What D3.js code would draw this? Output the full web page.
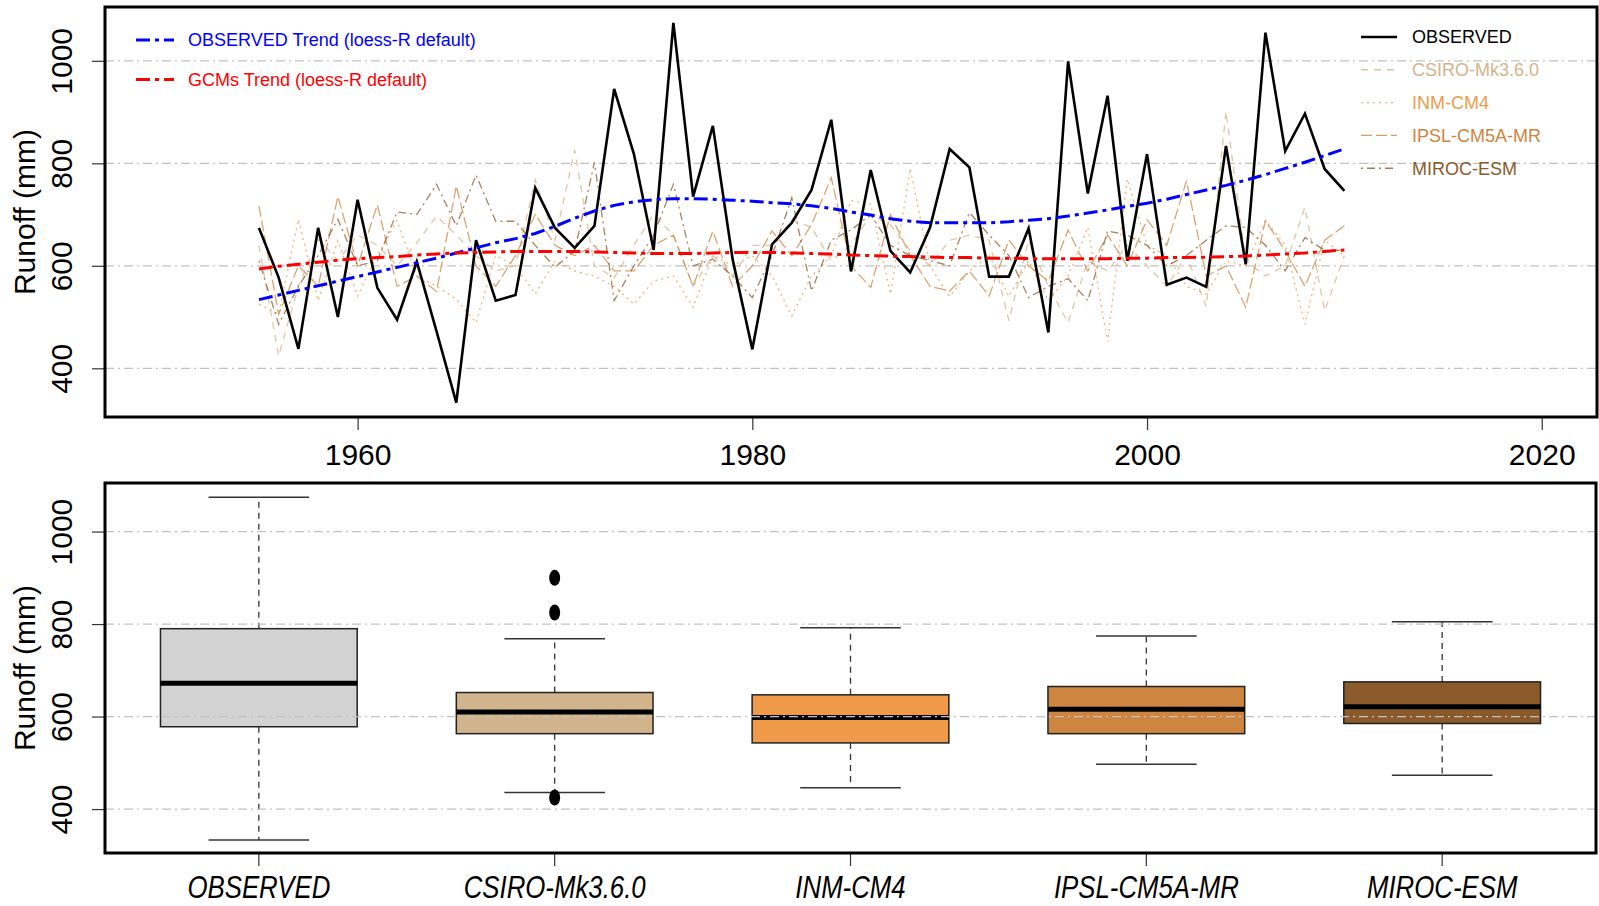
<!DOCTYPE html>
<html>
<head>
<meta charset="utf-8">
<script src="https://cdn.jsdelivr.net/npm/d3@7"></script>
<style>
  body { margin: 0; background: #fff; }
  svg { font-family: "Liberation Sans", Arial, sans-serif; display: block; }
</style>
</head>
<body>
<div id="chart"></div>
<script>
// Data
const years = d3.range(1955, 2011);

const observed = [674, 577, 438, 674, 500, 729, 557, 495, 608, 472,
  333, 650, 532, 543, 752, 674, 635, 678, 945, 818,
  631, 1074, 735, 873, 613, 437, 642, 684, 748, 885,
  589, 787, 629, 587, 674, 828, 792, 579, 579, 673,
  470, 999, 741, 932, 610, 818, 563, 577, 559, 834,
  603, 1055, 824, 897, 789, 746];

const csiro = [640, 424, 560, 652, 610, 660, 640, 600, 645, 697,
  660, 620, 590, 600, 768, 650, 826, 600, 577, 640,
  700, 660, 560, 620, 580, 640, 640, 690, 675, 610,
  640, 700, 680, 630, 600, 650, 660, 650, 493, 650,
  560, 489, 610, 590, 640, 600, 560, 620, 520, 902,
  610, 580, 600, 714, 512, 620];

const inm = [525, 506, 691, 532, 649, 541, 620, 688, 580, 560,
  535, 489, 620, 600, 545, 610, 590, 580, 560, 525,
  570, 580, 519, 620, 600, 620, 580, 502, 580, 620,
  727, 720, 545, 790, 600, 540, 590, 620, 540, 610,
  532, 580, 675, 452, 769, 640, 620, 560, 545, 610,
  600, 688, 640, 486, 650, 620];

const ipsl = [717, 505, 600, 560, 735, 600, 719, 560, 580, 550,
  756, 600, 560, 620, 700, 640, 620, 640, 590, 590,
  640, 660, 560, 668, 560, 600, 668, 620, 680, 772,
  600, 558, 700, 620, 560, 551, 590, 541, 650, 600,
  570, 670, 590, 660, 600, 690, 640, 766, 580, 600,
  519, 688, 630, 560, 650, 678];

const miroc = [610, 486, 560, 620, 691, 600, 610, 705, 700, 759,
  678, 777, 687, 687, 640, 597, 629, 802, 532, 600,
  660, 759, 600, 613, 580, 538, 620, 733, 551, 650,
  670, 700, 640, 620, 610, 600, 704, 660, 620, 538,
  560, 575, 532, 668, 660, 640, 600, 620, 650, 678,
  675, 640, 590, 655, 630, 630];

const obsTrend = [534, 543, 552, 561, 570, 579, 588, 597, 606, 615,
  625, 635, 645, 653, 663, 677, 693, 707, 718, 725,
  729, 731, 731, 730, 728, 726, 723, 721, 717, 712,
  705, 699, 692, 687, 684, 684, 684, 684, 686, 689,
  692, 697, 703, 709, 716, 722, 730, 739, 748, 757,
  767, 778, 790, 802, 815, 828];

const gcmTrend = [594, 599, 603, 607, 611, 614, 616, 618, 621, 623,
  625, 626, 627, 628, 628, 628, 628, 627, 626, 625,
  624, 624, 624, 625, 626, 626, 626, 625, 624, 623,
  621, 620, 619, 618, 617, 616, 616, 615, 615, 614,
  614, 614, 614, 614, 615, 615, 616, 616, 617, 618,
  619, 621, 623, 625, 628, 631];

const seriesNames = ["OBSERVED", "CSIRO-Mk3.6.0", "INM-CM4", "IPSL-CM5A-MR", "MIROC-ESM"];
const trendNames = ["OBSERVED Trend (loess-R default)", "GCMs Trend (loess-R default)"];

// box plot statistics (whisker low, Q1, median, Q3, whisker high)
const boxLow = [333, 436, 446, 497, 473];
const boxQ1 = [578, 563, 543, 563, 585];
const boxMed = [672, 610, 598, 616, 621];
const boxQ3 = [790, 652, 647, 665, 675];
const boxHigh = [1074, 768, 792, 774, 805];
const csiroOutliers = [900, 825, 425];

const yTicks = [400, 600, 800, 1000];
const xTicks = [1960, 1980, 2000, 2020];

// Styles
const colors = ["#000000", "#d2b48c", "#ee9a49", "#cd853f", "#8b5a2b"];
const boxFill = ["#d3d3d3", "#d2b48c", "#ee9a49", "#cd853f", "#8b5a2b"];
const dashes = [null, "7,6", "2,4", "11,4", "2,4,8,4"];
const trendColors = ["#0000ff", "#ff0000"];

const W = 1599, H = 906;
const svg = d3.select("#chart").append("svg")
  .attr("width", W)
  .attr("height", H)
  .style("background", "#fff");

const topP = { left: 105, right: 1597, top: 7, bottom: 417 };
const botP = { left: 105, right: 1596, top: 483, bottom: 853 };

const x = d3.scaleLinear().domain([1947.2, 2022.8]).range([topP.left, topP.right]);
const y = d3.scaleLinear().domain([305, 1105]).range([topP.bottom, topP.top]);
const xb = d3.scaleLinear().domain([0.48, 5.52]).range([botP.left, botP.right]);
const yb = d3.scaleLinear().domain([305, 1105]).range([botP.bottom, botP.top]);

function drawGrid(yScale, p) {
  svg.append("g").selectAll("line")
    .data(yTicks)
    .join("line")
    .attr("x1", p.left).attr("x2", p.right)
    .attr("y1", d => yScale(d)).attr("y2", d => yScale(d))
    .attr("stroke", "#c2c2c2")
    .attr("stroke-width", 1.3)
    .attr("stroke-dasharray", "9,4,2,4");
}

function drawYAxis(yScale, p) {
  const g = svg.append("g")
    .attr("transform", "translate(" + p.left + ",0)")
    .call(d3.axisLeft(yScale).tickValues(yTicks).tickSize(13).tickFormat(d3.format("d")));
  g.attr("font-family", null).attr("font-size", 30);
  g.select(".domain").remove();
  g.selectAll(".tick line").attr("stroke", "#333").attr("stroke-width", 1.2);
  g.selectAll(".tick text")
    .attr("x", 0).attr("dy", 0)
    .attr("text-anchor", "middle")
    .attr("fill", "#000")
    .attr("transform", "translate(-33,0) rotate(-90)");

  svg.append("text")
    .attr("transform", "translate(35," + ((p.top + p.bottom) / 2) + ") rotate(-90)")
    .attr("text-anchor", "middle")
    .style("font-size", "30px")
    .text("Runoff (mm)");
}

function drawFrame(p) {
  svg.append("rect")
    .attr("x", p.left).attr("y", p.top)
    .attr("width", p.right - p.left).attr("height", p.bottom - p.top)
    .attr("fill", "none")
    .attr("stroke", "#000")
    .attr("stroke-width", 3);
}

// ---------- Top panel: time series ----------
drawGrid(y, topP);

const line = d3.line()
  .x((d, i) => x(years[i]))
  .y(d => y(d));

const gcms = [csiro, inm, ipsl, miroc];
svg.append("g").selectAll("path")
  .data(gcms)
  .join("path")
  .attr("d", d => line(d))
  .attr("fill", "none")
  .attr("stroke", (d, i) => colors[i + 1])
  .attr("stroke-opacity", 0.75)
  .attr("stroke-width", 1.3)
  .attr("stroke-dasharray", (d, i) => dashes[i + 1]);

svg.append("path")
  .attr("d", line(observed))
  .attr("fill", "none")
  .attr("stroke", "#000")
  .attr("stroke-width", 2.6)
  .attr("stroke-linejoin", "miter");

svg.append("g").selectAll("path")
  .data([obsTrend, gcmTrend])
  .join("path")
  .attr("d", d => line(d))
  .attr("fill", "none")
  .attr("stroke", (d, i) => trendColors[i])
  .attr("stroke-width", 3)
  .attr("stroke-dasharray", "14,5,4,5");

drawYAxis(y, topP);

const xAxisTop = svg.append("g")
  .attr("transform", "translate(0," + topP.bottom + ")")
  .call(d3.axisBottom(x).tickValues(xTicks).tickSize(13).tickPadding(14).tickFormat(d3.format("d")));
xAxisTop.attr("font-family", null).attr("font-size", 30);
xAxisTop.select(".domain").remove();
xAxisTop.selectAll(".tick line").attr("stroke", "#333").attr("stroke-width", 1.2);
xAxisTop.selectAll(".tick text").attr("fill", "#000");

// legend, top-left (trends)
const legL = svg.append("g").selectAll("g")
  .data(trendNames)
  .join("g")
  .attr("transform", (d, i) => "translate(0," + (40 + i * 39.5) + ")");
legL.append("line")
  .attr("x1", 136).attr("x2", 174)
  .attr("stroke", (d, i) => trendColors[i])
  .attr("stroke-width", 3)
  .attr("stroke-dasharray", "14,5,4,5");
legL.append("text")
  .attr("x", 188).attr("dy", "0.35em")
  .style("font-size", "18px")
  .attr("fill", (d, i) => trendColors[i])
  .text(d => d);

// legend, top-right (series)
const legR = svg.append("g").selectAll("g")
  .data(seriesNames)
  .join("g")
  .attr("transform", (d, i) => "translate(0," + (37 + i * 32.8) + ")");
legR.append("line")
  .attr("x1", 1361).attr("x2", 1397)
  .attr("stroke", (d, i) => colors[i])
  .attr("stroke-opacity", (d, i) => i === 0 ? 1 : 0.8)
  .attr("stroke-width", (d, i) => i === 0 ? 2.6 : 1.4)
  .attr("stroke-dasharray", (d, i) => dashes[i]);
legR.append("text")
  .attr("x", 1412).attr("dy", "0.35em")
  .style("font-size", "18px")
  .attr("fill", (d, i) => colors[i])
  .text(d => d);

drawFrame(topP);

// ---------- Bottom panel: box plots ----------
const boxW = 0.665, capW = 0.34;
const idx = d3.range(seriesNames.length);

const boxes = svg.append("g").selectAll("g")
  .data(idx)
  .join("g");

// whiskers (dashed)
boxes.append("line")
  .attr("x1", i => xb(i + 1)).attr("x2", i => xb(i + 1))
  .attr("y1", i => yb(boxQ3[i])).attr("y2", i => yb(boxHigh[i]))
  .attr("stroke", "#333").attr("stroke-width", 1.3).attr("stroke-dasharray", "6,5");
boxes.append("line")
  .attr("x1", i => xb(i + 1)).attr("x2", i => xb(i + 1))
  .attr("y1", i => yb(boxQ1[i])).attr("y2", i => yb(boxLow[i]))
  .attr("stroke", "#333").attr("stroke-width", 1.3).attr("stroke-dasharray", "6,5");

// staples
[boxHigh, boxLow].forEach(arr => {
  boxes.append("line")
    .attr("x1", i => xb(i + 1 - capW / 2)).attr("x2", i => xb(i + 1 + capW / 2))
    .attr("y1", i => yb(arr[i])).attr("y2", i => yb(arr[i]))
    .attr("stroke", "#333").attr("stroke-width", 1.5);
});

boxes.append("rect")
  .attr("x", i => xb(i + 1 - boxW / 2))
  .attr("width", xb(1 + boxW) - xb(1))
  .attr("y", i => yb(boxQ3[i]))
  .attr("height", i => yb(boxQ1[i]) - yb(boxQ3[i]))
  .attr("fill", i => boxFill[i])
  .attr("stroke", "#222")
  .attr("stroke-width", 1.5);

boxes.append("line")
  .attr("x1", i => xb(i + 1 - boxW / 2)).attr("x2", i => xb(i + 1 + boxW / 2))
  .attr("y1", i => yb(boxMed[i])).attr("y2", i => yb(boxMed[i]))
  .attr("stroke", "#000").attr("stroke-width", 5);

// outliers for CSIRO
svg.append("g").selectAll("ellipse")
  .data(csiroOutliers)
  .join("ellipse")
  .attr("cx", xb(2))
  .attr("cy", d => yb(d))
  .attr("rx", 5.5).attr("ry", 8)
  .attr("fill", "#000");

drawGrid(yb, botP);
drawYAxis(yb, botP);

// bottom x axis with italic condensed labels
const bx = svg.append("g").selectAll("g")
  .data(idx)
  .join("g");
bx.append("line")
  .attr("x1", i => xb(i + 1)).attr("x2", i => xb(i + 1))
  .attr("y1", botP.bottom).attr("y2", botP.bottom + 13)
  .attr("stroke", "#333").attr("stroke-width", 1.2);
bx.append("text")
  .attr("transform", i => "translate(" + xb(i + 1) + ",898) scale(0.86,1.05)")
  .attr("text-anchor", "middle")
  .style("font-size", "30px")
  .style("font-style", "italic")
  .text(i => seriesNames[i]);

drawFrame(botP);
</script>
</body>
</html>
